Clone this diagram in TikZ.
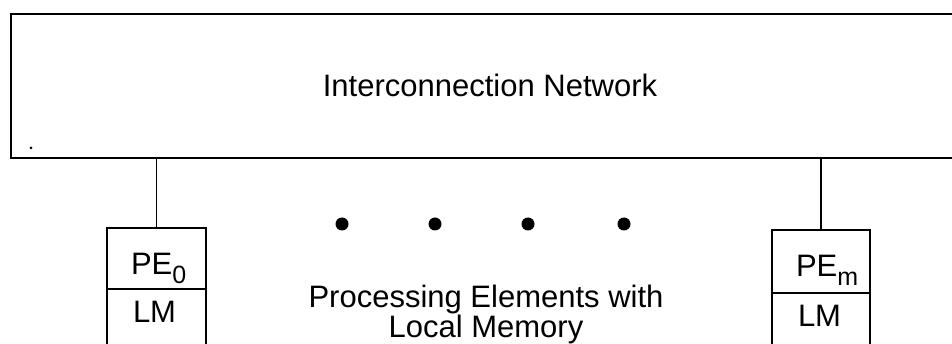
\documentclass[tikz,border=0pt]{standalone}
\usepackage{fontspec}
\setmainfont{Liberation Sans}
\newcommand\pesub[1]{\raisebox{-9pt}{\fontsize{25}{25}\selectfont #1}}
\tikzset{
  frame/.style={draw, line width=1.8pt, inner sep=0pt, outer sep=0pt},
  link/.style={line width=1.6pt},
  lbl/.style={inner sep=0pt, outer sep=0pt, font=\fontsize{31}{30}\selectfont},
  bullet/.style={circle, fill, inner sep=0pt, minimum size=13pt},
}
\begin{document}
\begin{tikzpicture}[x=1pt, y=-1pt]
\useasboundingbox (0,0) rectangle (952,344);
\clip (0,0) rectangle (952,344);

% interconnection network (runs off the right edge)
\node[frame, minimum width=974pt, minimum height=144pt] (netbox) at (498,86) {};
\node[lbl, anchor=base] (netlabel) at (490,97) {Interconnection Network};
\fill (31,148) circle (1.5pt);

% processing element 0
\node[frame, minimum width=99pt, minimum height=61pt] (pe0) at (156.5,258.5) {};
\node[frame, minimum width=99pt, minimum height=80pt, anchor=north] (lm0) at (pe0.south) {};
\node[lbl, anchor=base west] (pe0txt) at (131,275) {PE\pesub{0}};
\node[lbl, anchor=base west] (lm0txt) at (133,323) {LM};

% processing element m
\node[frame, minimum width=98pt, minimum height=63pt] (pem) at (821,261.5) {};
\node[frame, minimum width=98pt, minimum height=80pt, anchor=north] (lmm) at (pem.south) {};
\node[lbl, anchor=base west] (pemtxt) at (796,277) {PE\pesub{m}};
\node[lbl, anchor=base west] (lmmtxt) at (798,326) {LM};

% links to the network
\draw[link] (pe0.north) -- (pe0.north |- netbox.south);
\draw[link] (pem.north) -- (pem.north |- netbox.south);

% ellipsis dots
\node[bullet] (d1) at (342,224) {};
\node[bullet] (d2) at (435,224) {};
\node[bullet] (d3) at (528,224) {};
\node[bullet] (d4) at (624,224) {};

% the base anchor of a multi-line node sits on its last line
\node[lbl, align=center, anchor=base] (caption) at (486,337)
  {Processing Elements with\\Local Memory};
\end{tikzpicture}
\end{document}
